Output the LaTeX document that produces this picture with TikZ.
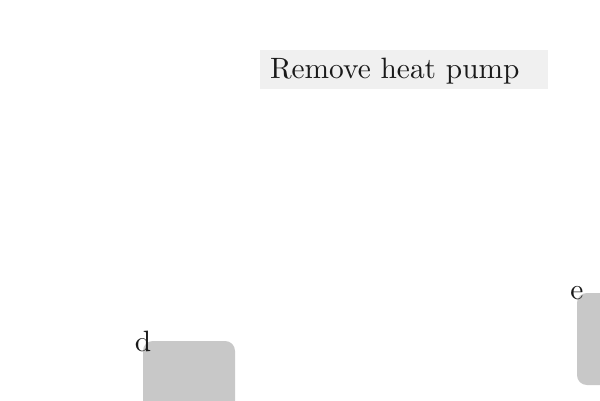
\documentclass[tikz,border=0pt]{standalone}
\usetikzlibrary{positioning}
\definecolor{pumpPanel}{HTML}{F0F0F0}
\definecolor{pumpBlock}{HTML}{C8C8C8}
\definecolor{pumpText}{HTML}{1A1A1A}
\tikzset{
  pump diagram/.style={
    x=0.3333pt, y=-0.3333pt,
    every node/.style={font=\fontsize{9.8}{11.8}\selectfont,
      text=pumpText, inner sep=0pt, outer sep=0pt}
  },
  pump title/.style={fill=pumpPanel, anchor=north west,
    minimum width=96pt, minimum height=13pt},
  pump block/.style={fill=pumpBlock, rounded corners=3.3pt,
    anchor=north west, minimum width=30.67pt, minimum height=30.67pt}
}

\begin{document}
\begin{tikzpicture}[pump diagram]
    \useasboundingbox (0,0) rectangle (600,400);
    \clip (0,0) rectangle (600,400);
    \node[pump title] (titlebox) at (260,50) {};
    \node[anchor=base west] (title) at (270,78.3) {Remove heat pump};
    \node[pump block] (d) at (143,341) {};
    \node (dlabel) at (d.north west) {d};
    \node[pump block] (e) at (577,293) {};
    \node (elabel) at (e.north west) {e};
\end{tikzpicture}
\end{document}
